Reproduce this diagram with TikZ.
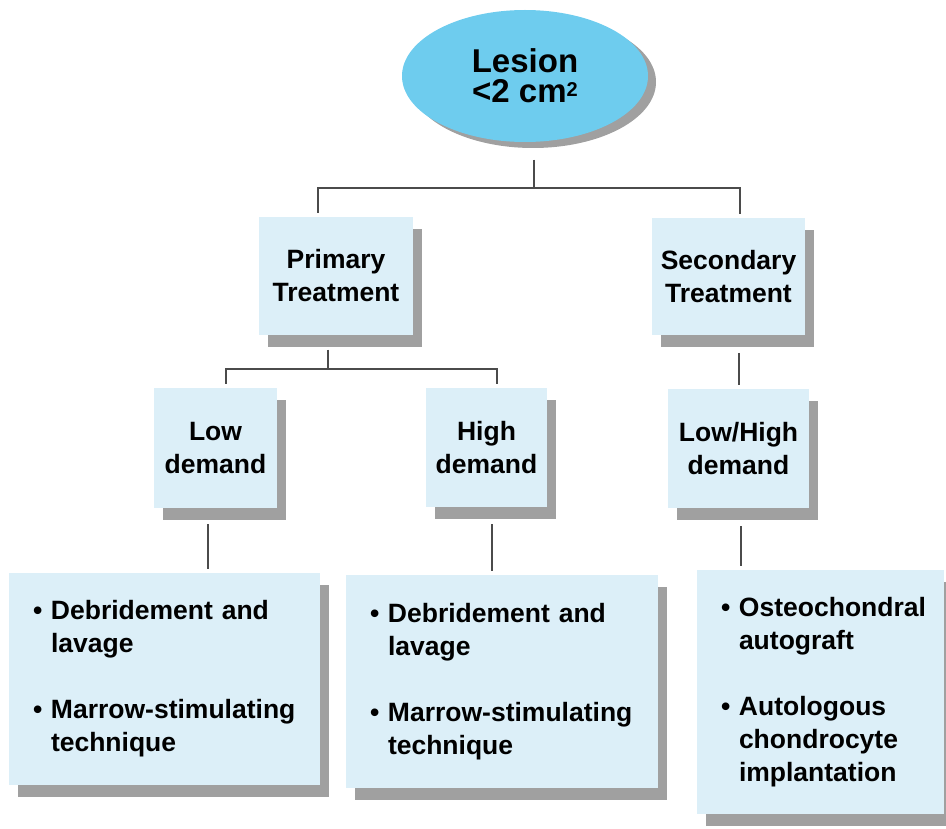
\documentclass[tikz,border=0pt]{standalone}
\usepackage{fontspec}
\setmainfont{Liberation Sans}
\usetikzlibrary{shapes.geometric,shadows}
\definecolor{boxblue}{RGB}{220,239,248}
\definecolor{lesionblue}{RGB}{110,204,238}
\definecolor{shadowgrey}{RGB}{160,160,160}
\definecolor{linkgrey}{RGB}{75,75,75}
\newcommand{\itm}{\makebox[18pt][l]{\textbullet}}
\newcommand{\ind}{\hspace*{18pt}}
\tikzset{
  box/.style={rectangle, fill=boxblue, inner sep=0pt, align=center,
    font=\fontsize{26.5}{33}\selectfont\bfseries,
    drop shadow={shadow xshift=9pt, shadow yshift=-12pt, fill=shadowgrey, opacity=1}},
  listbox/.style={box, align=left, inner xsep=24pt, inner ysep=0pt},
  link/.style={draw=linkgrey, line width=1.8pt, shorten >=4pt}
}

\begin{document}
\begin{tikzpicture}[x=1pt, y=-1pt]
  \useasboundingbox (0,0) rectangle (946,829);

  \node[ellipse, fill=lesionblue, minimum width=246pt, minimum height=132pt, inner sep=0pt,
    align=center, font=\fontsize{33}{30}\selectfont\bfseries,
    drop shadow={shadow xshift=8pt, shadow yshift=-6pt, fill=shadowgrey, opacity=1}]
    (lesion) at (525,76) {Lesion\\<2 cm\raisebox{6pt}{\fontsize{20}{20}\selectfont 2}};

  \node[box, minimum width=154pt, minimum height=118pt] (primary) at (336,276) {Primary\\Treatment};
  \node[box, minimum width=153pt, minimum height=117pt] (secondary) at (728.5,276.5) {Secondary\\Treatment};

  \node[box, minimum width=123pt, minimum height=120pt] (lowdem) at (215.5,448) {Low\\demand};
  \node[box, minimum width=121pt, minimum height=119pt] (highdem) at (486.5,447.5) {High\\demand};
  \node[box, minimum width=141pt, minimum height=119pt] (bothdem) at (738.5,448.5) {Low/High\\demand};

  \node[listbox, text width=263pt, minimum height=212pt] (lowtx) at (164.5,679)
    {\itm Debridement and\\ \ind lavage\\[33pt] \itm Marrow-stimulating\\ \ind technique};
  \node[listbox, text width=264pt, minimum height=213pt] (hightx) at (502,681.5)
    {\itm Debridement and\\ \ind lavage\\[33pt] \itm Marrow-stimulating\\ \ind technique};
  \node[listbox, inner xsep=24pt, text width=199pt, minimum height=244pt] (bothtx) at (820.5,692)
    {\itm Osteochondral\\ \ind autograft\\[33pt] \itm Autologous\\ \ind chondrocyte\\ \ind implantation};

  % tree lines
  \coordinate (lesion-out) at (534,160);
  \coordinate (prim-in) at (318,188);
  \coordinate (sec-in) at (740,188);
  \draw[link] (lesion-out) |- (prim-in) -- (prim-in |- primary.north);
  \draw[link] (lesion-out) |- (sec-in) -- (sec-in |- secondary.north);

  \coordinate (prim-out) at (328,350);
  \coordinate (low-in) at (226,369);
  \coordinate (high-in) at (497,369);
  \draw[link] (prim-out) |- (low-in) -- (low-in |- lowdem.north);
  \draw[link] (prim-out) |- (high-in) -- (high-in |- highdem.north);

  \coordinate (sec-out) at (739,353);
  \draw[link] (sec-out) -- (sec-out |- bothdem.north);

  \coordinate (low-out) at (208,524);
  \coordinate (high-out) at (492,524);
  \coordinate (both-out) at (741,526);
  \draw[link] (low-out) -- (low-out |- lowtx.north);
  \draw[link] (high-out) -- (high-out |- hightx.north);
  \draw[link] (both-out) -- (both-out |- bothtx.north);
\end{tikzpicture}
\end{document}
